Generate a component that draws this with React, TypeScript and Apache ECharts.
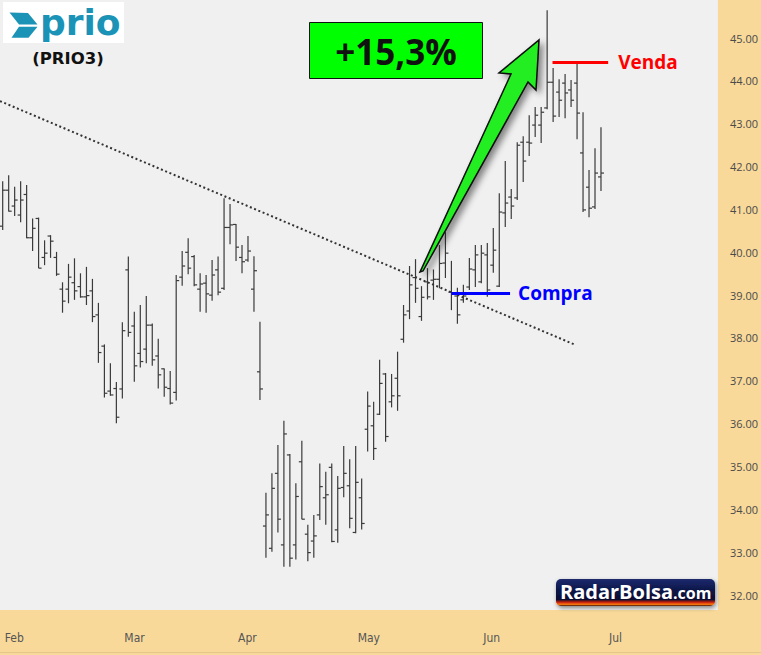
import React, { useEffect, useRef } from "react";
import * as echarts from "echarts";

// OHLC values (one bar per trading day, index 0..100)
const opens = [
  40.61, 41.45, 41.08, 40.87, 41.35, 40.34, 40.79, 39.88, 40.38, 39.88,
  39.14, 39.14, 39.29, 39.2, 38.96, 39.1, 38.54, 37.81, 36.76, 36.82,
  36.81, 39.59, 38.28, 37.64, 37.74, 38.3, 37.58, 37.28, 36.82, 36.73,
  39.42, 40.0, 39.9, 39.14, 39.28, 39.0, 39.59, 39.16, 40.58, 40.65,
  39.88, 39.82, 39.14, 37.21, 33.61, 33.09, 34.84, 33.17, 35.27, 33.17,
  35.11, 33.42, 33.26, 33.87, 34.27, 34.98, 33.52, 34.51, 34.55, 33.46,
  34.27, 35.87, 35.95, 36.22, 37.16, 36.51, 37.06, 37.97, 38.63, 39.41,
  38.5, 39.31, 39.35, 39.37, 39.75, 39.07, 38.98, 38.89, 39.19, 39.59,
  39.31, 39.94, 39.7, 39.21, 40.92, 41.29, 41.27, 42.57, 42.57, 42.97,
  42.97, 43.37, 43.97, 43.74, 43.95, 43.79, 43.95, 42.32, 41.52, 41.06,
  41.76,
];
const highs = [
  41.66, 41.8, 41.53, 41.66, 41.57, 40.79, 40.81, 40.28, 40.4, 40.01,
  39.3, 39.73, 39.86, 39.51, 39.66, 39.38, 38.82, 37.85, 37.41, 36.97,
  38.37, 39.9, 38.61, 38.77, 38.98, 38.34, 37.98, 37.29, 37.23, 39.47,
  40.03, 40.33, 39.94, 39.51, 39.47, 39.82, 39.9, 41.26, 41.13, 40.66,
  40.17, 40.38, 39.91, 38.38, 34.39, 34.84, 35.5, 36.07, 35.29, 34.61,
  35.6, 33.64, 33.87, 35.07, 34.88, 35.07, 34.78, 35.48, 35.17, 35.48,
  34.72, 36.75, 36.51, 37.49, 37.18, 37.16, 37.68, 38.77, 39.68, 39.84,
  39.21, 39.63, 39.6, 40.17, 40.47, 39.8, 39.17, 39.24, 39.87, 40.17,
  40.17, 40.22, 40.57, 41.38, 42.13, 41.48, 42.57, 42.71, 43.2, 43.39,
  43.39, 45.65, 44.3, 44.04, 44.16, 44.02, 44.42, 43.27, 41.92, 42.43,
  42.92,
];
const lows = [
  40.52, 40.95, 40.85, 40.7, 40.33, 40.03, 39.63, 39.7, 39.87, 39.45,
  38.59, 38.81, 38.89, 38.94, 38.77, 38.37, 37.42, 36.61, 36.65, 36.01,
  36.59, 38.03, 36.98, 37.31, 37.41, 37.35, 36.82, 36.63, 36.45, 36.54,
  39.22, 39.49, 39.21, 38.61, 38.59, 38.87, 39.0, 39.12, 40.19, 39.8,
  39.51, 39.78, 38.61, 36.55, 32.87, 33.01, 33.46, 32.66, 32.66, 32.83,
  33.77, 32.79, 32.87, 33.75, 33.64, 33.23, 33.22, 34.28, 33.56, 33.44,
  33.53, 35.35, 35.15, 36.2, 35.58, 36.38, 36.3, 37.89, 38.44, 38.82,
  38.4, 38.9, 38.89, 39.16, 39.4, 38.65, 38.33, 38.82, 39.12, 39.19,
  39.28, 38.96, 39.52, 39.19, 40.59, 40.78, 41.22, 41.64, 42.25, 42.69,
  42.55, 43.34, 43.04, 43.16, 43.13, 43.39, 42.64, 40.94, 40.82, 41.01,
  41.43,
];
const closes = [
  41.45, 40.96, 41.22, 41.22, 40.34, 40.56, 39.63, 39.98, 40.26, 39.49,
  38.86, 39.42, 39.1, 38.96, 38.99, 38.5, 37.66, 36.71, 36.67, 36.15,
  38.17, 38.13, 37.35, 37.45, 38.3, 37.49, 37.14, 36.85, 36.48, 39.34,
  39.68, 39.63, 39.24, 39.26, 39.03, 39.47, 39.07, 40.58, 40.64, 40.12,
  39.78, 40.03, 39.57, 36.81, 33.87, 34.49, 33.77, 35.76, 32.86, 34.3,
  33.77, 32.99, 33.38, 34.53, 34.34, 33.25, 34.49, 34.84, 33.79, 34.63,
  33.67, 36.41, 35.42, 36.94, 35.7, 36.65, 36.65, 38.54, 39.24, 39.16,
  38.95, 38.96, 39.37, 39.74, 39.98, 39.03, 38.54, 38.98, 39.61, 39.94,
  39.98, 39.12, 40.05, 40.94, 41.15, 41.08, 42.5, 42.13, 42.55, 43.2,
  43.27, 43.97, 43.18, 43.55, 43.72, 43.55, 43.25, 40.99, 41.03, 41.85,
  41.85,
];

// Axis labels
const monthLabels = ["Feb", "Mar", "Apr", "May", "Jun", "Jul"];
const monthIdx = [0, 20, 39, 59, 80, 101];
const yTicks = [32, 33, 34, 35, 36, 37, 38, 39, 40, 41, 42, 43, 44, 45];

// Annotations (bar index, price)
const trendLine = [
  [-0.45, 43.53],
  [95.7, 37.84],
];
const buyLevel = 39.04;
const buySpan = [75, 84.8];
const sellLevel = 44.44;
const sellSpan = [91.9, 101.2];
const gainText = "+15,3%";
const tickerText = "(PRIO3)";

const BOLD_FONT = "'Open Sans', 'Noto Sans', sans-serif";

export default function App() {
  const ref = useRef<HTMLDivElement>(null);

  useEffect(() => {
    if (!ref.current) return;
    const chart = echarts.init(ref.current, undefined, { renderer: "svg" });

    const ohlc = opens.map((o, i) => [i, o, highs[i], lows[i], closes[i]]);

    const option: any = {
      animation: false,
      backgroundColor: "#f8d99a",
      grid: {
        left: 0,
        top: 0,
        width: 720,
        height: 610,
        show: true,
        backgroundColor: "#f0f0f0",
        borderWidth: 0,
      },
      xAxis: {
        type: "value",
        min: -0.45,
        max: 119.55,
        axisLine: { show: false },
        axisTick: { show: false },
        splitLine: { show: false },
        axisLabel: {
          customValues: monthIdx,
          formatter: (v: number) => {
            const k = monthIdx.indexOf(Math.round(v));
            return k >= 0 ? monthLabels[k] : "";
          },
          align: "left",
          margin: 22,
          padding: [0, 0, 0, 2],
          color: "#555",
          fontSize: 12,
          fontFamily: "'Liberation Sans Narrow', 'DejaVu Sans Condensed', sans-serif",
        },
      },
      yAxis: {
        type: "value",
        position: "right",
        min: 31.65,
        max: 45.89,
        axisLine: { show: false },
        axisTick: { show: false },
        splitLine: { show: false },
        axisLabel: {
          customValues: yTicks,
          formatter: (v: number) => v.toFixed(2),
          margin: 12,
          color: "#4a4a4a",
          fontSize: 11,
          fontFamily: "'Open Sans', 'Noto Sans', sans-serif",
        },
      },
      series: [
        {
          type: "custom",
          data: ohlc,
          encode: { x: 0, y: [1, 2, 3, 4] },
          renderItem: (params: any, api: any) => {
            const i = api.value(0);
            const pO = api.coord([i, api.value(1)]);
            const pH = api.coord([i, api.value(2)]);
            const pL = api.coord([i, api.value(3)]);
            const pC = api.coord([i, api.value(4)]);
            const x = pH[0];
            const st = { stroke: "#3a3a3a", lineWidth: 1.2 };
            return {
              type: "group",
              children: [
                { type: "line", shape: { x1: x, y1: pH[1], x2: x, y2: pL[1] }, style: st },
                { type: "line", shape: { x1: x - 3, y1: pO[1], x2: x, y2: pO[1] }, style: st },
                { type: "line", shape: { x1: x, y1: pC[1], x2: x + 3, y2: pC[1] }, style: st },
              ],
            };
          },
          z: 2,
        },
        {
          type: "line",
          data: trendLine,
          symbol: "none",
          silent: true,
          lineStyle: { color: "#333", width: 2, type: [2, 2.6] },
          z: 3,
        },
        {
          type: "line",
          data: [],
          silent: true,
          z: 4,
          markLine: {
            silent: true,
            symbol: ["none", "none"],
            data: [
              [
                {
                  coord: [buySpan[0], buyLevel],
                  lineStyle: { color: "#0000ff", width: 3, type: "solid" },
                  label: {
                    show: true,
                    position: "end",
                    formatter: "Compra",
                    color: "#0000ff",
                    fontSize: 19,
                    fontWeight: "bold",
                    fontFamily: BOLD_FONT,
                    distance: 8,
                  },
                },
                { coord: [buySpan[1], buyLevel] },
              ],
              [
                {
                  coord: [sellSpan[0], sellLevel],
                  lineStyle: { color: "#ff0000", width: 3, type: "solid" },
                  label: {
                    show: true,
                    position: "end",
                    formatter: "Venda",
                    color: "#ff0000",
                    fontSize: 19,
                    fontWeight: "bold",
                    fontFamily: BOLD_FONT,
                    distance: 10,
                  },
                },
                { coord: [sellSpan[1], sellLevel] },
              ],
            ],
          },
        },
      ],
      graphic: [
        // prio logo
        { type: "rect", shape: { x: 3, y: 2, width: 121, height: 41 }, style: { fill: "#ffffff" }, z: 10 },
        {
          type: "polygon",
          shape: { points: [[9.5, 12.5], [28, 13], [37.5, 24.5], [19, 24.5]] },
          style: { fill: "#1b93b6" },
          z: 11,
        },
        {
          type: "polygon",
          shape: { points: [[19, 26.8], [37.5, 26.8], [28.5, 37.8], [11.5, 37.8]] },
          style: { fill: "#1b93b6" },
          z: 11,
        },
        {
          type: "text",
          x: 40,
          y: 22,
          style: {
            text: "prio",
            fill: "#1b93b6",
            fontSize: 36,
            fontWeight: "bold",
            fontFamily: "'DejaVu Sans', sans-serif",
            align: "left",
            verticalAlign: "middle",
          },
          z: 11,
        },
        {
          type: "text",
          x: 68,
          y: 58,
          style: {
            text: tickerText,
            fill: "#111",
            fontSize: 16.5,
            fontWeight: "bold",
            fontFamily: "'DejaVu Sans', sans-serif",
            align: "center",
            verticalAlign: "middle",
          },
          z: 11,
        },
        // gain box
        {
          type: "rect",
          shape: { x: 309.5, y: 22.5, width: 173, height: 56 },
          style: { fill: "#00ff00", stroke: "#111", lineWidth: 1 },
          z: 10,
        },
        {
          type: "text",
          x: 396,
          y: 51,
          style: {
            text: gainText,
            fill: "#111",
            fontSize: 35,
            fontWeight: "bold",
            fontFamily: BOLD_FONT,
            align: "center",
            verticalAlign: "middle",
          },
          z: 11,
        },
        // arrow
        {
          type: "polygon",
          shape: {
            points: [
              [539, 40],
              [536, 90],
              [528, 82],
              [423, 271],
              [420, 272],
              [511, 74],
              [499, 73],
            ],
          },
          style: {
            fill: "#22ee22",
            stroke: "#0a0a0a",
            lineWidth: 1.5,
            shadowBlur: 6,
            shadowOffsetX: 4,
            shadowOffsetY: 3,
            shadowColor: "rgba(0,0,0,0.45)",
          },
          z: 12,
        },
        // RadarBolsa logo
        {
          type: "rect",
          shape: { x: 556, y: 579, width: 159, height: 27, r: 5 },
          style: {
            fill: new echarts.graphic.LinearGradient(0, 0, 0, 1, [
              { offset: 0, color: "#1c2a6e" },
              { offset: 0.45, color: "#0b1545" },
              { offset: 0.76, color: "#0a0e33" },
              { offset: 0.86, color: "#c8200a" },
              { offset: 0.94, color: "#ff7a10" },
              { offset: 1, color: "#3a1010" },
            ]),
            shadowBlur: 4,
            shadowOffsetX: 1,
            shadowOffsetY: 2,
            shadowColor: "rgba(0,0,0,0.45)",
          },
          z: 10,
        },
        {
          type: "text",
          x: 560,
          y: 591,
          style: {
            text: "RadarBolsa",
            fill: "#ffffff",
            fontSize: 20,
            fontWeight: "bold",
            fontFamily: BOLD_FONT,
            align: "left",
            verticalAlign: "middle",
          },
          z: 11,
        },
        {
          type: "text",
          x: 673,
          y: 593,
          style: {
            text: ".com",
            fill: "#ffffff",
            fontSize: 16,
            fontWeight: "bold",
            fontFamily: BOLD_FONT,
            align: "left",
            verticalAlign: "middle",
          },
          z: 11,
        },
        // bottom edge line
        { type: "rect", shape: { x: 0, y: 652, width: 761, height: 1 }, style: { fill: "#e4c68a" }, z: 1 },
      ],
    };

    chart.setOption(option);
    return () => chart.dispose();
  }, []);

  return (
    <div
      ref={ref}
      style={{ position: "fixed", left: 0, top: 0, width: 761, height: 655 }}
    />
  );
}
